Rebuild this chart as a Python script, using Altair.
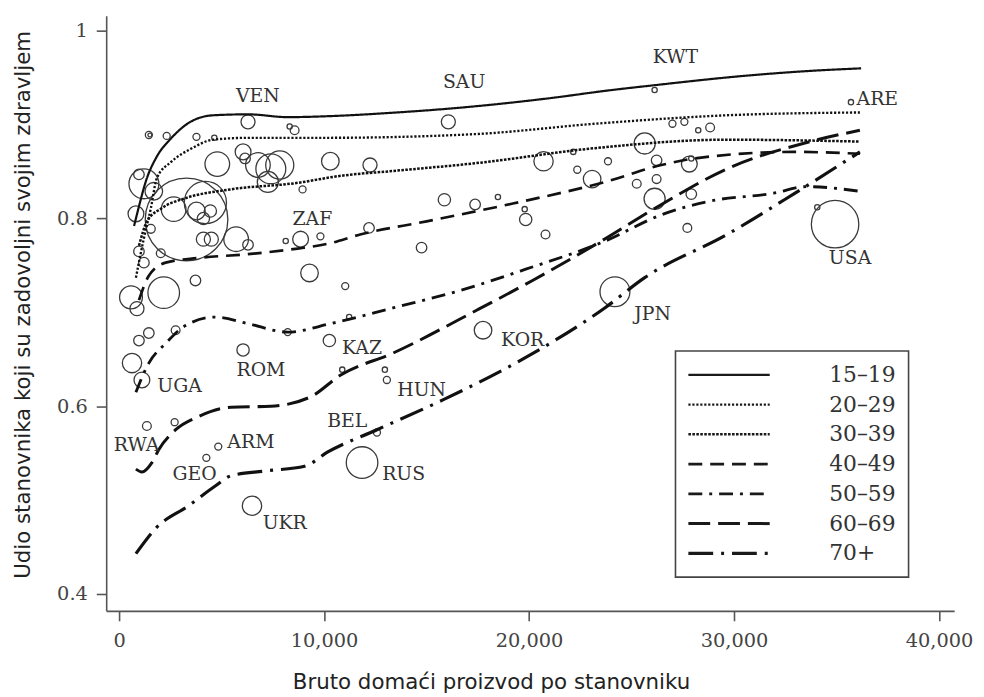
import altair as alt
import pandas as pd

# ---------------- data ----------------
ages = ["15–19", "20–29", "30–39", "40–49", "50–59", "60–69", "70+"]

gdp_1519 = [730, 970, 1310, 1840, 2520, 3480, 4600, 6290, 8230, 10160, 13550, 16590, 21300, 23700, 26100, 30500, 33500, 36200]
sat_1519 = [0.792, 0.813, 0.840, 0.866, 0.885, 0.903, 0.910, 0.911, 0.908, 0.909, 0.913, 0.918, 0.929, 0.936, 0.942, 0.952, 0.957, 0.960]

gdp_2029 = [820, 1210, 1550, 1840, 2520, 3480, 4600, 6290, 10160, 17420, 23220, 29660, 36140]
sat_2029 = [0.737, 0.779, 0.811, 0.843, 0.860, 0.874, 0.884, 0.886, 0.886, 0.890, 0.901, 0.910, 0.913]

gdp_3039 = [970, 1360, 2080, 3290, 5420, 8710, 10640, 13550, 17420, 23220, 29660, 36140]
sat_3039 = [0.771, 0.797, 0.811, 0.822, 0.831, 0.838, 0.845, 0.851, 0.859, 0.875, 0.884, 0.882]

gdp_4049 = [970, 1450, 2270, 3870, 6290, 8710, 10160, 11760, 15000, 19210, 23710, 26460, 28060, 32900, 36140]
sat_4049 = [0.713, 0.739, 0.753, 0.758, 0.762, 0.768, 0.773, 0.783, 0.797, 0.816, 0.839, 0.857, 0.864, 0.871, 0.869]

gdp_5059 = [820, 1450, 2270, 3240, 4690, 6290, 8230, 10310, 13400, 16590, 19840, 23710, 26460, 28690, 31930, 33530, 36140]
sat_5059 = [0.615, 0.646, 0.667, 0.686, 0.695, 0.688, 0.679, 0.688, 0.705, 0.723, 0.746, 0.776, 0.804, 0.818, 0.827, 0.834, 0.829]

gdp_6069 = [820, 1110, 1600, 1940, 2760, 3870, 5470, 7400, 9340, 10790, 13400, 17420, 20170, 23370, 26460, 29660, 33720, 36140]
sat_6069 = [0.533, 0.530, 0.540, 0.554, 0.575, 0.589, 0.599, 0.600, 0.610, 0.633, 0.657, 0.702, 0.734, 0.774, 0.815, 0.853, 0.882, 0.894]

gdp_70p = [820, 1790, 3390, 4690, 5470, 7110, 9050, 10160, 12580, 15820, 19840, 23710, 25640, 29660, 32900, 36140]
sat_70p = [0.443, 0.470, 0.494, 0.515, 0.526, 0.531, 0.536, 0.551, 0.575, 0.607, 0.652, 0.705, 0.737, 0.783, 0.826, 0.871]

# countries (bubbles): GDP per capita, share satisfied, population (millions)
bubble_gdp = [1451, 1500, 2322, 3774, 4645, 1210, 968, 1693, 822, 2661, 3774, 4112, 4451, 4790, 4112, 4499,
              5709, 2032, 968, 1210, 3725, 2177, 581, 871, 1548, 3290, 4209, 6289, 8563, 8321, 6048, 6144,
              6773, 7402, 7838, 7257, 10305, 8950, 6289, 8854, 8128, 9821, 9289, 16062, 12240, 15869, 17368,
              18481, 20707, 22158, 22352, 23077, 12192, 19836, 19787, 20803, 14756, 11031, 11224, 17755, 24190,
              629, 1113, 1451, 968, 2758, 6048, 10257, 1355, 2709, 4838, 4257, 6483, 8225, 10886, 12966, 13063,
              11853, 12579, 26125, 35704, 26996, 27577, 28254, 28834, 25641, 23851, 26222, 25254, 26222, 26125,
              27819, 27915, 27915, 27722, 34930, 34060]
bubble_sat = [0.889, 0.889, 0.888, 0.887, 0.886, 0.837, 0.847, 0.829, 0.805, 0.810, 0.808, 0.800, 0.808, 0.858, 0.778, 0.778,
              0.778, 0.763, 0.765, 0.753, 0.734, 0.721, 0.716, 0.704, 0.789, 0.799, 0.817, 0.903, 0.894, 0.898, 0.871, 0.864,
              0.857, 0.853, 0.857, 0.839, 0.861, 0.831, 0.772, 0.778, 0.776, 0.781, 0.742, 0.903, 0.857, 0.820, 0.815,
              0.823, 0.861, 0.871, 0.852, 0.842, 0.790, 0.799, 0.810, 0.783, 0.769, 0.728, 0.695, 0.681, 0.722,
              0.646, 0.628, 0.678, 0.670, 0.681, 0.660, 0.670, 0.579, 0.583, 0.557, 0.545, 0.494, 0.679, 0.639, 0.639, 0.628,
              0.540, 0.572, 0.937, 0.924, 0.901, 0.903, 0.894, 0.897, 0.880, 0.861, 0.862, 0.837, 0.842, 0.821,
              0.858, 0.864, 0.826, 0.790, 0.794, 0.812]
bubble_pop = [6.6, 2.0, 6.6, 6.6, 3.7, 119, 14.8, 41.2, 33.3, 80.7, 41.2, 20.2, 20.2, 80.7, 26.3, 26.3,
              80.7, 10.3, 14.8, 14.8, 14.8, 133, 69.5, 26.3, 10.3, 909, 237, 26.3, 10.3, 3.7, 33.3, 14.8,
              80.7, 119, 105, 59.3, 41.2, 6.6, 14.8, 33.3, 3.7, 6.6, 41.2, 26.3, 26.3, 20.2, 14.8,
              3.7, 49.8, 3.7, 6.6, 41.2, 14.8, 20.2, 3.7, 10.3, 14.8, 6.6, 3.7, 41.2, 119,
              49.8, 33.3, 14.8, 14.8, 10.3, 20.2, 20.2, 10.3, 6.6, 6.6, 6.6, 49.8, 6.6, 3.7, 3.7, 6.6,
              133, 6.6, 3.7, 3.7, 6.6, 6.6, 3.7, 10.3, 59.3, 6.6, 14.8, 10.3, 10.3, 59.3,
              33.3, 3.7, 14.8, 10.3, 300, 3.7]

label_text = ["VEN", "SAU", "KWT", "ARE", "ZAF", "USA", "JPN", "KOR", "KAZ", "ROM", "UGA", "HUN",
              "BEL", "RWA", "ARM", "GEO", "RUS", "UKR"]
label_gdp = [6773, 16830, 27140, 36990, 9430, 35660, 26030, 19690, 11850, 6920, 2950, 14760,
             11130, 850, 6430, 3680, 13880, 8080]
label_sat = [0.931, 0.945, 0.972, 0.927, 0.799, 0.758, 0.698, 0.671, 0.662, 0.639, 0.622, 0.617,
             0.584, 0.559, 0.562, 0.528, 0.528, 0.476]

dash_patterns = [[1, 0], [2.2, 1.8], [2.6, 1.4], [14, 8], [14, 7, 3, 7], [22, 8], [25, 8, 3, 8]]
line_widths = [2.2, 3.2, 3.2, 2.8, 2.8, 3.0, 2.8]

# ---------------- tables ----------------
series_x = [gdp_1519, gdp_2029, gdp_3039, gdp_4049, gdp_5059, gdp_6069, gdp_70p]
series_y = [sat_1519, sat_2029, sat_3039, sat_4049, sat_5059, sat_6069, sat_70p]
rows = []
for age, xs, ys in zip(ages, series_x, series_y):
    for i, (xv, yv) in enumerate(zip(xs, ys)):
        rows.append({"age": age, "gdp": xv, "sat": yv, "order": i})
lines_df = pd.DataFrame(rows)

bubbles_df = pd.DataFrame({"gdp": bubble_gdp, "sat": bubble_sat, "pop": bubble_pop})
labels_df = pd.DataFrame({"label": label_text, "gdp": label_gdp, "sat": label_sat})

# ---------------- encodings ----------------
x_scale = alt.Scale(domain=[-630, 40740], nice=False, zero=False)
y_scale = alt.Scale(domain=[0.382, 1.016], nice=False, zero=False)

x_axis = alt.Axis(
    title="Bruto domaći proizvod po stanovniku",
    values=[0, 10000, 20000, 30000, 40000], format=",d",
    titleX=388, titleY=78, titleBaseline="alphabetic", titleAlign="center",
    labelPadding=11,
)
y_axis = alt.Axis(
    title="Udio stanovnika koji su zadovoljni svojim zdravljem",
    values=[0.4, 0.6, 0.8, 1.0], format="~g",
    titleX=-77, titleY=291, titleBaseline="alphabetic", titleAlign="center",
    labelPadding=9,
)

bubbles = alt.Chart(bubbles_df).mark_point(
    shape="circle", filled=False, stroke="#3a3a3a", strokeWidth=1.3, opacity=1
).encode(
    x=alt.X("gdp:Q", scale=x_scale, axis=x_axis),
    y=alt.Y("sat:Q", scale=y_scale, axis=y_axis),
    size=alt.Size("pop:Q", scale=alt.Scale(type="linear", domain=[0, 300], range=[0, 2290]), legend=None),
)

lines = alt.Chart(lines_df).mark_line(interpolate="monotone", color="#111").encode(
    x=alt.X("gdp:Q", scale=x_scale, axis=x_axis),
    y=alt.Y("sat:Q", scale=y_scale, axis=y_axis),
    detail="age:N",
    order="order:Q",
    strokeDash=alt.StrokeDash(
        "age:N",
        scale=alt.Scale(domain=ages, range=dash_patterns),
        legend=alt.Legend(
            title=None, orient="none", legendX=574, legendY=338, direction="vertical",
            symbolType="M-8.2,0H8.2", symbolSize=100, symbolStrokeWidth=2.5,
            symbolStrokeColor="#1a1a1a", symbolFillColor="transparent",
            symbolOffset=30, labelOffset=90,
            labelFont="DejaVu Serif", labelFontSize=22, labelColor="#333",
            padding=13, rowPadding=8, fillColor="white", strokeColor="#444",
        ),
    ),
    strokeWidth=alt.StrokeWidth(
        "age:N", scale=alt.Scale(domain=ages, range=line_widths), legend=None
    ),
)

labels = alt.Chart(labels_df).mark_text(
    font="DejaVu Serif", fontSize=19, color="#333", align="center", baseline="middle"
).encode(
    x=alt.X("gdp:Q", scale=x_scale, axis=x_axis),
    y=alt.Y("sat:Q", scale=y_scale, axis=y_axis),
    text="label:N",
)

chart = alt.layer(bubbles, lines, labels).properties(
    width=855, height=600,
    autosize=alt.AutoSizeParams(type="none"),
    padding={"left": 99, "top": 5, "right": 22, "bottom": 84},
).configure_view(stroke=None).configure_axis(
    grid=False, domainColor="#555", domainWidth=1.6, tickColor="#555", tickWidth=1.6,
    tickSize=10, labelFont="DejaVu Serif", labelFontSize=19.5, labelColor="#444",
    titleFont="DejaVu Sans", titleFontSize=21.5, titleFontWeight="normal", titleColor="#222",
).configure_legend(strokeWidth=1.6, labelFont="DejaVu Serif")

chart.save("out.html", embed_options={"renderer": "svg", "actions": False})
